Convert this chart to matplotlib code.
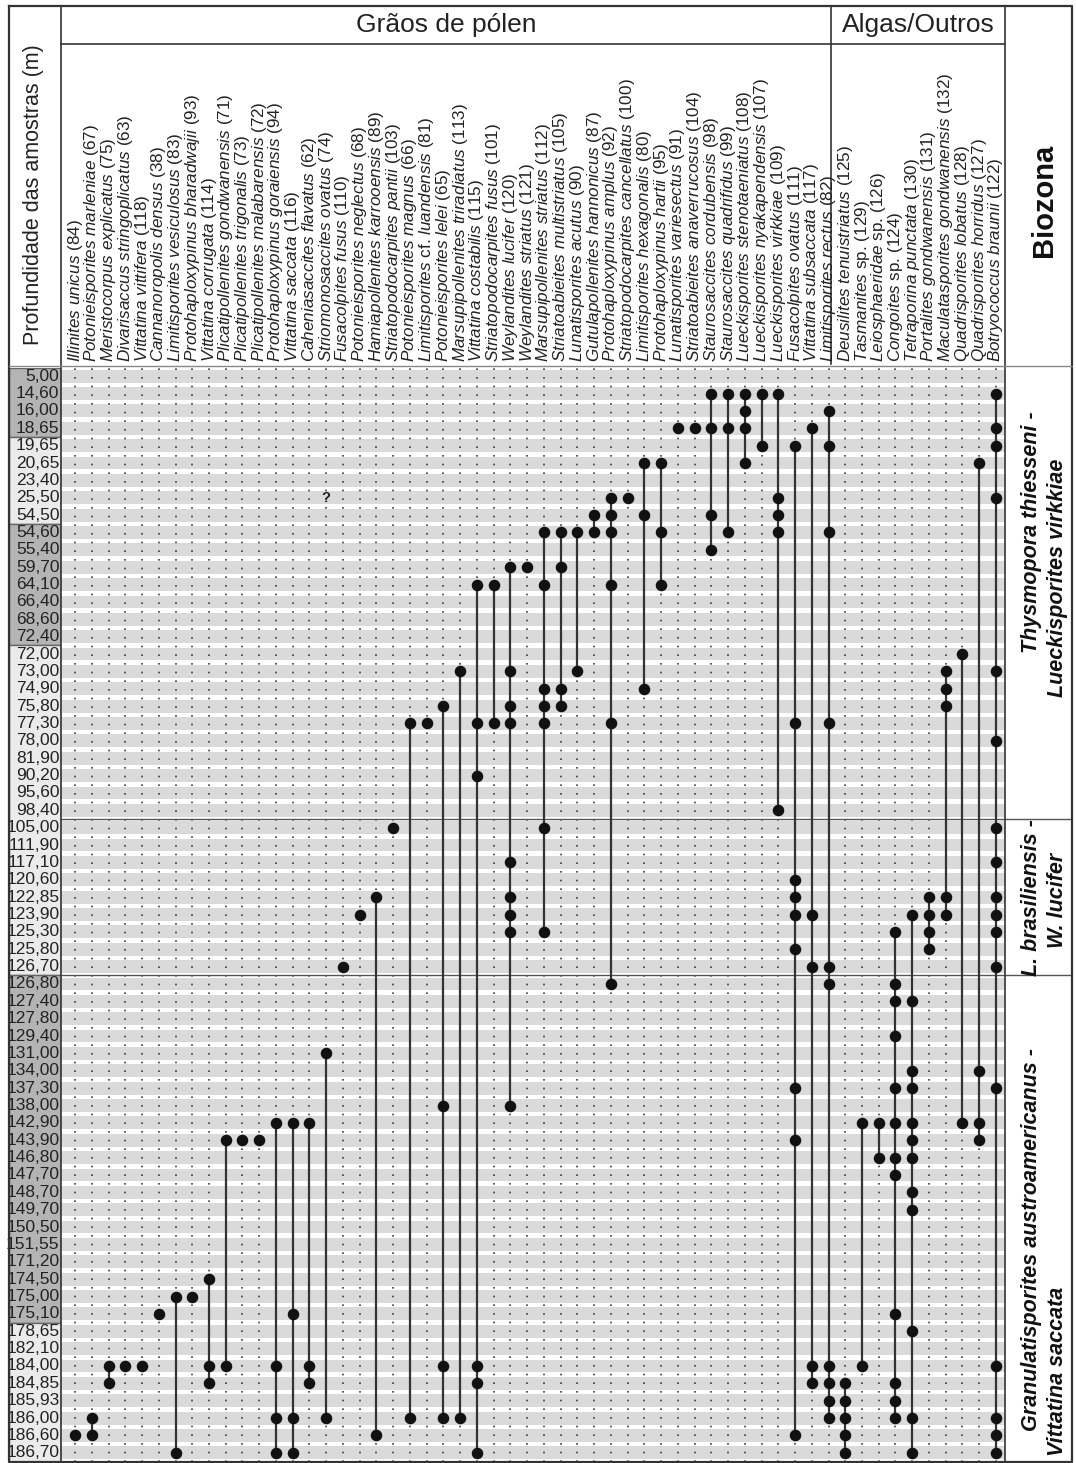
import numpy as np
import matplotlib
matplotlib.use("Agg")
import matplotlib.pyplot as plt
import matplotlib.transforms as mtransforms

plt.rcParams['font.family'] = ['Liberation Sans', 'DejaVu Sans']
plt.rcParams['mathtext.fontset'] = 'custom'
plt.rcParams['mathtext.rm'] = 'Liberation Sans'
plt.rcParams['mathtext.it'] = 'Liberation Sans:italic'

# ---------------- data ----------------
depths = ["5,00", "14,60", "16,00", "18,65", "19,65", "20,65", "23,40", "25,50",
          "54,50", "54,60", "55,40", "59,70", "64,10", "66,40", "68,60", "72,40",
          "72,00", "73,00", "74,90", "75,80", "77,30", "78,00", "81,90", "90,20",
          "95,60", "98,40", "105,00", "111,90", "117,10", "120,60", "122,85",
          "123,90", "125,30", "125,80", "126,70", "126,80", "127,40", "127,80",
          "129,40", "131,00", "134,00", "137,30", "138,00", "142,90", "143,90",
          "146,80", "147,70", "148,70", "149,70", "150,50", "151,55", "171,20",
          "174,50", "175,00", "175,10", "178,65", "182,10", "184,00", "184,85",
          "185,93", "186,00", "186,60", "186,70"]

# shading of the depth column (first depth, last depth, tone)
depth_blocks = [("5,00", "18,65", "dark"), ("19,65", "54,50", "light"),
                ("54,60", "72,40", "dark"), ("72,00", "126,70", "light"),
                ("126,80", "175,10", "dark"), ("178,65", "186,70", "light")]

taxa = ["Illinites unicus", "Potonieisporites marleniae", "Meristocorpus explicatus",
        "Divarisaccus stringoplicatus", "Vittatina vittifera", "Cannanoropolis densus",
        "Limitisporites vesiculosus", "Protohaploxypinus bharadwajii", "Vittatina corrugata",
        "Plicatipollenites gondwanensis", "Plicatipollenites trigonalis",
        "Plicatipollenites malabarensis", "Protohaploxypinus goraiensis", "Vittatina saccata",
        "Caheniasaccites flavatus", "Striomonosaccites ovatus", "Fusacolpites fusus",
        "Potonieisporites neglectus", "Hamiapollenites karrooensis",
        "Striatopodocarpites pantii", "Potonieisporites magnus",
        "Limitisporites cf. luandensis", "Potonieisporites lelei",
        "Marsupipollenites triradiatus", "Vittatina costabilis", "Striatopodocarpites fusus",
        "Weylandites lucifer", "Weylandites striatus", "Marsupipollenites striatus",
        "Striatoabieites multistriatus", "Lunatisporites acutus", "Gutulapollenites hannonicus",
        "Protohaploxypinus amplus", "Striatopodocarpites cancellatus",
        "Limitisporites hexagonalis", "Protohaploxypinus hartii", "Lunatisporites variesectus",
        "Striatoabieites anaverrucosus", "Staurosaccites cordubensis",
        "Staurosaccites quadrifidus", "Lueckisporites stenotaeniatus",
        "Lueckisporites nyakapendensis", "Lueckisporites virkkiae", "Fusacolpites ovatus",
        "Vittatina subsaccata", "Limitisporites rectus",
        "Deusilites tenuistriatus", "Tasmanites sp.", "Leiosphaeridae sp.", "Congoites sp.",
        "Tetraporina punctata", "Portalites gondwanensis", "Maculatasporites gondwanensis",
        "Quadrisporites lobatus", "Quadrisporites horridus", "Botryococcus braunii"]
taxa_numbers = [84, 67, 75, 63, 118, 38, 83, 93, 114, 71, 73, 72, 94, 116, 62, 74, 110,
                68, 89, 103, 66, 81, 65, 113, 115, 101, 120, 121, 112, 105, 90, 87, 92,
                100, 80, 95, 91, 104, 98, 99, 108, 107, 109, 111, 117, 82,
                125, 129, 126, 124, 130, 131, 132, 128, 127, 122]

occurrences = [
    ["186,60"],
    ["186,00", "186,60"],
    ["184,00", "184,85"],
    ["184,00"],
    ["184,00"],
    ["175,10"],
    ["175,00", "186,70"],
    ["175,00"],
    ["174,50", "184,00", "184,85"],
    ["143,90", "184,00"],
    ["143,90"],
    ["143,90"],
    ["142,90", "184,00", "186,00", "186,70"],
    ["142,90", "175,10", "186,00", "186,70"],
    ["142,90", "184,00", "184,85"],
    ["131,00", "186,00"],
    ["126,70"],
    ["123,90"],
    ["122,85", "186,60"],
    ["105,00"],
    ["77,30", "186,00"],
    ["77,30"],
    ["75,80", "138,00", "184,00", "186,00"],
    ["73,00", "186,00"],
    ["64,10", "77,30", "90,20", "184,00", "184,85", "186,70"],
    ["64,10", "77,30"],
    ["59,70", "73,00", "75,80", "77,30", "117,10", "122,85", "123,90", "125,30", "138,00"],
    ["59,70"],
    ["54,60", "64,10", "74,90", "75,80", "77,30", "105,00", "125,30"],
    ["54,60", "59,70", "74,90", "75,80"],
    ["54,60", "73,00"],
    ["54,50", "54,60"],
    ["25,50", "54,50", "54,60", "64,10", "77,30", "126,80"],
    ["25,50"],
    ["20,65", "54,50", "74,90"],
    ["20,65", "54,60", "64,10"],
    ["18,65"],
    ["18,65"],
    ["14,60", "18,65", "54,50", "55,40"],
    ["14,60", "18,65", "54,60"],
    ["14,60", "16,00", "18,65", "20,65"],
    ["14,60", "19,65"],
    ["14,60", "25,50", "54,50", "54,60", "98,40"],
    ["19,65", "77,30", "120,60", "122,85", "123,90", "125,80", "137,30", "143,90", "186,60"],
    ["18,65", "123,90", "126,70", "184,00", "184,85"],
    ["16,00", "19,65", "54,60", "77,30", "126,70", "126,80", "184,00", "184,85", "185,93", "186,00"],
    ["184,85", "185,93", "186,00", "186,60", "186,70"],
    ["142,90", "184,00"],
    ["142,90", "146,80"],
    ["125,30", "126,80", "127,40", "129,40", "137,30", "142,90", "146,80", "147,70",
     "175,10", "184,85", "185,93", "186,00"],
    ["123,90", "127,40", "134,00", "137,30", "142,90", "143,90", "146,80", "148,70",
     "149,70", "178,65", "186,00", "186,70"],
    ["122,85", "123,90", "125,30", "125,80"],
    ["73,00", "74,90", "75,80", "122,85", "123,90"],
    ["72,00", "142,90"],
    ["20,65", "134,00", "142,90", "143,90"],
    ["14,60", "18,65", "19,65", "25,50", "73,00", "78,00", "105,00", "117,10", "122,85",
     "123,90", "125,30", "126,70", "137,30", "184,00", "186,00", "186,60", "186,70"],
]
uncertain = [("Striomonosaccites ovatus", "25,50")]

zone_lines = [("Thysmopora thiesseni -", "Lueckisporites virkkiae"),
              ("L. brasiliensis -", "W. lucifer"),
              ("Granulatisporites austroamericanus -", "Vittatina saccata")]
zone_tops = ["5,00", "105,00", "126,80"]

row_of = {d: i for i, d in enumerate(depths)}
n_rows = len(depths)
n_cols = len(taxa)

# ---------------- layout ----------------
W, H = 1076, 1463
fig = plt.figure(figsize=(W / 100, H / 100), dpi=100)
fig.patch.set_facecolor('white')


def add_px_axes(x0, y0, x1, y1):
    a = fig.add_axes([x0 / W, 1 - y1 / H, (x1 - x0) / W, (y1 - y0) / H])
    a.set_axis_off()
    return a


X_DEPTH, X_DATA, X_ALG, X_ZONE, X_RIGHT = 9, 61, 831, 1005, 1072
Y_TOP, Y_GROUP, Y_HEAD, Y_BOTTOM = 6, 44, 367.5, 1461.5

ax = add_px_axes(X_DATA, Y_HEAD, X_ZONE, Y_BOTTOM)
ax.set_xlim(-0.84, n_cols - 1 + 0.54)
ax.set_ylim(n_rows - 0.5, -0.5)

# row stripes
for i in range(n_rows):
    ax.axhspan(i - 0.37, i + 0.37, color='#dadada', lw=0, zorder=0)
# dotted guides
for j in range(n_cols):
    ax.axvline(j, color='#3c3c3c', lw=1.2, ls=(0, (1, 4.2)), zorder=1)

# ranges and occurrences
for j, occ in enumerate(occurrences):
    rows = [row_of[d] for d in occ]
    if len(rows) > 1:
        ax.plot([j, j], [min(rows), max(rows)], color='#333333', lw=1.6, zorder=3,
                solid_capstyle='butt')
    ax.plot([j] * len(rows), rows, 'o', ms=7.3, color='#111111', zorder=4)

for name, d in uncertain:
    ax.text(taxa.index(name), row_of[d], "?", ha='center', va='center',
            fontsize=10.5, fontweight='bold', color='#222222', zorder=5)

# zone boundaries
for top in zone_tops[1:]:
    ax.axhline(row_of[top] - 0.5, color='#555555', lw=1.0, zorder=2)

# depth column
dax = add_px_axes(X_DEPTH, Y_HEAD, X_DATA, Y_BOTTOM)
dax.set_xlim(0, 1)
dax.set_ylim(n_rows - 0.5, -0.5)
tones = {"dark": '#b4b4b4', "light": '#ebebeb'}
for first, last, tone in depth_blocks:
    r0, r1 = row_of[first] - 0.5, row_of[last] + 0.5
    dax.add_patch(plt.Rectangle((0, r0), 1, r1 - r0, facecolor=tones[tone],
                                edgecolor='#666666', lw=1.0))
for i, d in enumerate(depths):
    dax.text(0.97, i, d, ha='right', va='center', fontsize=12.5, color='#222222')

# biozone column: each line placed separately (row centre of line 1 and line 2)
zone_line_rows = [(9.0, 11.6), (30.0, 30.2), (49.7, 57.3)]
zone_line_x = (0.40, 0.79)
zax = add_px_axes(X_ZONE, Y_HEAD, X_RIGHT, Y_BOTTOM)
zax.set_xlim(0, 1)
zax.set_ylim(n_rows - 0.5, -0.5)
for lines, yrows, top in zip(zone_lines, zone_line_rows, zone_tops):
    for txt, yr, xx in zip(lines, yrows, zone_line_x):
        zax.text(xx, yr, txt, rotation=90, ha='center', va='center', fontsize=15.5,
                 fontweight='bold', style='italic', color='#111111')
    if top != zone_tops[0]:
        zax.axhline(row_of[top] - 0.5, color='#555555', lw=1.0)

# frame / header (pixel coordinates)
frame = add_px_axes(0, 0, W, H)
frame.set_xlim(0, W)
frame.set_ylim(H, 0)
frame.patch.set_visible(False)
lc = '#333333'
frame.plot([X_DEPTH, X_RIGHT, X_RIGHT, X_DEPTH, X_DEPTH],
           [Y_TOP, Y_TOP, Y_BOTTOM, Y_BOTTOM, Y_TOP], color=lc, lw=1.6)
frame.plot([X_DATA, X_DATA], [Y_TOP, Y_BOTTOM], color=lc, lw=1.2)
frame.plot([X_ZONE, X_ZONE], [Y_TOP, Y_BOTTOM], color=lc, lw=1.2)
frame.plot([X_ALG, X_ALG], [Y_TOP, Y_HEAD - 4], color=lc, lw=1.2)
frame.plot([X_DATA, X_ZONE], [Y_GROUP, Y_GROUP], color=lc, lw=1.2)
frame.plot([X_DEPTH, X_RIGHT], [Y_HEAD - 2, Y_HEAD - 2], color='#888888', lw=1.0)

frame.text((X_DEPTH + X_DATA) / 2 - 1, 195, "Profundidade das amostras (m)", rotation=90,
           ha='center', va='center', fontsize=15.5, color='#222222')
frame.text((X_DATA + X_ALG) / 2, Y_GROUP / 2 + 3, "Grãos de pólen", ha='center',
           va='center', fontsize=19, color='#222222')
frame.text((X_ALG + X_ZONE) / 2, Y_GROUP / 2 + 3, "Algas/Outros", ha='center',
           va='center', fontsize=19, color='#222222')
frame.text((X_ZONE + X_RIGHT) / 2 + 6, 200, "Biozona", rotation=90, ha='center',
           va='center', fontsize=21, fontweight='bold', color='#111111')

# species labels
blend = mtransforms.blended_transform_factory(ax.transData, frame.transData)


def taxon_label(name, number):
    parts = []
    for w in name.split():
        if w in ("cf.", "sp."):
            parts.append(w)
        else:
            parts.append(r"$\mathit{" + w + "}$")
    return " ".join(parts) + " (%d)" % number


for j, (name, num) in enumerate(zip(taxa, taxa_numbers)):
    frame.text(j, Y_HEAD - 6, taxon_label(name, num), transform=blend, rotation=90,
               rotation_mode='anchor', ha='left', va='center', fontsize=12.3,
               color='#222222')

fig.savefig("out.png", dpi=100, facecolor='white')
